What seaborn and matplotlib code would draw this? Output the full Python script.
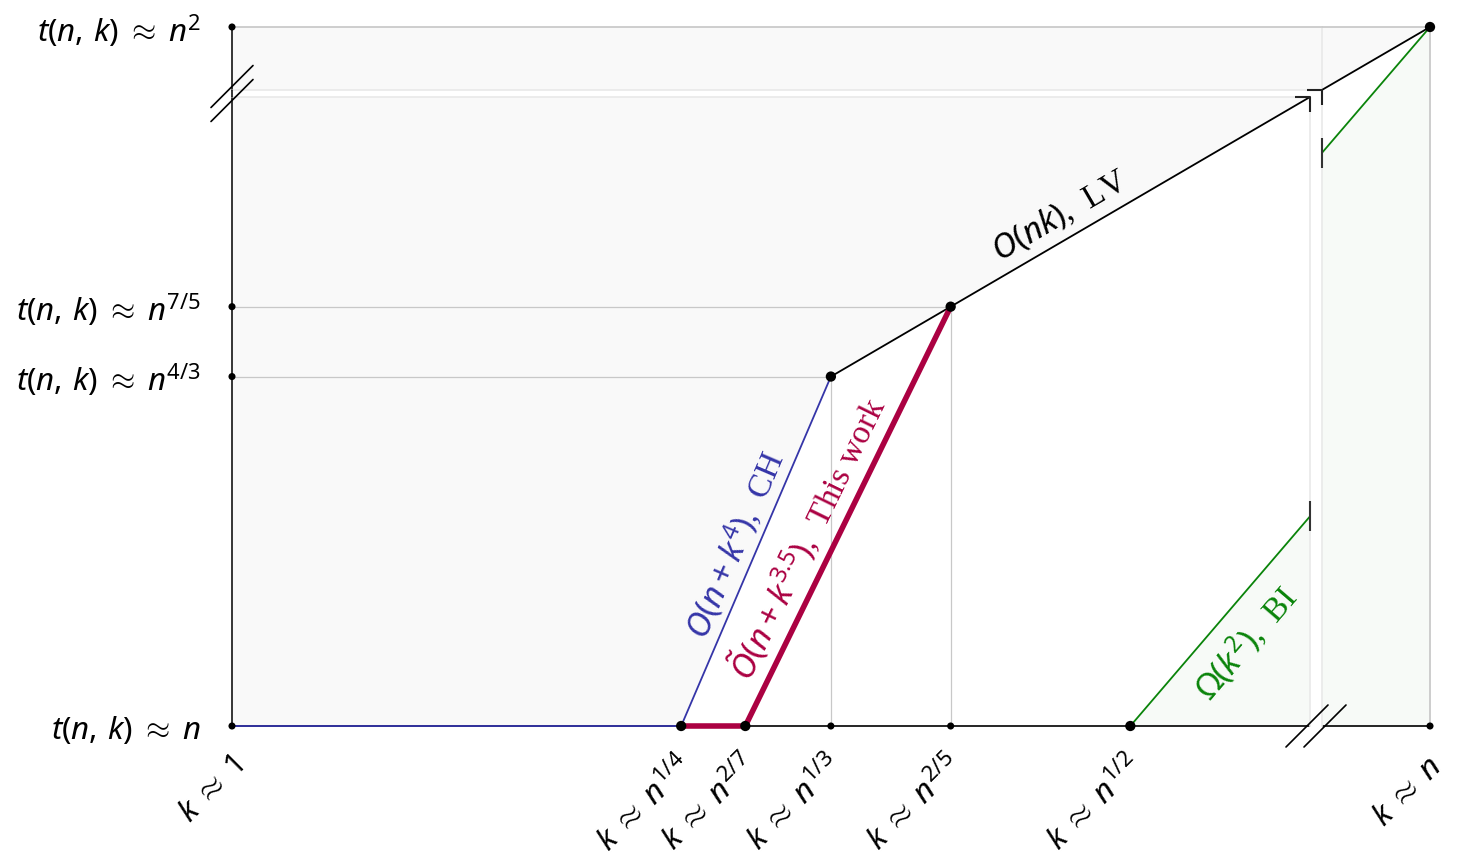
import numpy as np
import matplotlib
matplotlib.use("Agg")
import matplotlib.pyplot as plt
from matplotlib.lines import Line2D
from matplotlib.path import Path
from matplotlib.transforms import ScaledTranslation, Bbox, TransformedBbox
import seaborn as sns

# ---------------- data (exponents: k = n^x, t(n,k) = n^y) ----------------
x_ticks = [0, 1/4, 2/7, 1/3, 2/5, 1/2, 1]
x_labels = [r"$k\;\approx\;1$", r"$k\;\approx\;n^{1/4}$", r"$k\;\approx\;n^{2/7}$",
            r"$k\;\approx\;n^{1/3}$", r"$k\;\approx\;n^{2/5}$", r"$k\;\approx\;n^{1/2}$",
            r"$k\;\approx\;n$"]
y_ticks = [1, 4/3, 7/5, 2]
y_labels = [r"$t(n,\,k)\;\approx\;n$", r"$t(n,\,k)\;\approx\;n^{4/3}$",
            r"$t(n,\,k)\;\approx\;n^{7/5}$", r"$t(n,\,k)\;\approx\;n^{2}$"]

ch_x, ch_y = [0, 1/4, 1/3], [1, 1, 4/3]              # O(n + k^4), CH
lv_x, lv_y = [1/3, 2/5, 1], [4/3, 7/5, 2]            # O(nk), LV
this_x, this_y = [1/4, 2/7, 2/5], [1, 1, 7/5]        # O~(n + k^3.5), this work
bi_x, bi_y = [1/2, 1], [1, 2]                        # Omega(k^2), BI
upper_x, upper_y = [0, 1/4, 1/3, 1], [1, 1, 4/3, 2]  # best known upper bound

big_x = [1/4, 2/7, 1/3, 2/5, 1/2, 1]
big_y = [1, 1, 4/3, 7/5, 1, 2]
small_x = [0, 0, 0, 0, 1/3, 2/5, 1]
small_y = [1, 4/3, 7/5, 2, 1, 1, 1]

grid_x, grid_y = [1/3, 2/5], [4/3, 7/5]

# axis breaks
X_BREAK, Y_BREAK, X_RESUME = 0.6, 1.6, 0.91

# ---------------- style ----------------
BLUE = "#3535a8"
RED = "#ab0142"
GREEN = "#0a840a"
GRAYFILL = "#f9f9f9"
GREENFILL = "#f7faf7"
GRID = "#c8c8c8"
FAINT = "#eaeaea"

sns.set_theme(style="white")
plt.rcParams["font.family"] = ["Liberation Serif", "DejaVu Serif"]
plt.rcParams["mathtext.fontset"] = "custom"
plt.rcParams["mathtext.rm"] = "Noto Sans"
plt.rcParams["mathtext.it"] = "Noto Sans:italic"
plt.rcParams["mathtext.bf"] = "Noto Sans:bold"
FS_TICK = 22.5
FS_CURVE = 24

W, H = 1457, 857
fig = plt.figure(figsize=(W / 100, H / 100), dpi=100)
fig.patch.set_facecolor("white")


def frac(x0, y0, x1, y1):
    return [x0 / W, 1 - y1 / H, (x1 - x0) / W, (y1 - y0) / H]


# pixel layout
PX0, PXB, PXR, PX1 = 232, 1310, 1322, 1430
PY2, PYT, PYB, PY1 = 27, 90, 97, 726

ax = fig.add_axes(frac(PX0, PYB, PXB, PY1))
ax.set_xlim(0, X_BREAK)
ax.set_ylim(1, Y_BREAK)
sx = (PXB - PX0) / X_BREAK
ax_top = fig.add_axes(frac(PX0, PY2, PXR, PYT))
ax_top.set_xlim(0, (PXR - PX0) / sx)
ax_top.set_ylim(2 - (PYT - PY2) / ((PY1 - PYB) / (Y_BREAK - 1)), 2)
ax_r = fig.add_axes(frac(PXR, PY2, PX1, PY1))
ax_r.set_xlim(X_RESUME, 1)
ax_r.set_ylim(1, 2)

for a in (ax, ax_top, ax_r):
    a.set_facecolor("none")
    a.set_xticks([])
    a.set_yticks([])
    a.grid(False)
    for s in a.spines.values():
        s.set_visible(False)

# spines
ax.spines["left"].set_visible(True); ax.spines["left"].set_color("black"); ax.spines["left"].set_linewidth(1.1)
ax.spines["top"].set_visible(True); ax.spines["top"].set_color(FAINT)
ax.spines["right"].set_visible(True); ax.spines["right"].set_color(FAINT)
ax_top.spines["left"].set_visible(True); ax_top.spines["left"].set_color("black"); ax_top.spines["left"].set_linewidth(1.1)
ax_top.spines["top"].set_visible(True); ax_top.spines["top"].set_color(GRID)
ax_top.spines["bottom"].set_visible(True); ax_top.spines["bottom"].set_color(FAINT)
ax_r.spines["top"].set_visible(True); ax_r.spines["top"].set_color(GRID)
ax_r.spines["right"].set_visible(True); ax_r.spines["right"].set_color(GRID)
ax_r.spines["left"].set_visible(True); ax_r.spines["left"].set_color(FAINT)


def clip_lines(a, lines, x0, x1, y0, y1):
    box = TransformedBbox(Bbox([[x0, y0], [x1, y1]]), a.transData)
    for ln in lines:
        ln.set_clip_box(box)


# ---------------- fills ----------------
for a in (ax, ax_top, ax_r):
    a.fill_between(upper_x, upper_y, 2, color=GRAYFILL, lw=0, zorder=0)
    a.fill_between(bi_x, 1, bi_y, color=GREENFILL, lw=0, zorder=0)

# ---------------- grid lines ----------------
ax.vlines(grid_x, 1, grid_y, color=GRID, lw=0.9, zorder=1)
ax.hlines(grid_y, 0, grid_x, color=GRID, lw=0.9, zorder=1)

# ---------------- curves ----------------
def draw_curves(a, xlo, xhi, yhi):
    n0 = len(a.lines)
    a.axhline(1, color="black", lw=1.2, zorder=2)
    sns.lineplot(x=lv_x, y=lv_y, ax=a, color="black", lw=1.3, sort=False, estimator=None, zorder=3)
    sns.lineplot(x=bi_x, y=bi_y, ax=a, color=GREEN, lw=1.3, sort=False, estimator=None, zorder=3)
    sns.lineplot(x=ch_x, y=ch_y, ax=a, color=BLUE, lw=1.3, sort=False, estimator=None, zorder=3)
    sns.lineplot(x=this_x, y=this_y, ax=a, color=RED, lw=4.0, sort=False, estimator=None,
                 zorder=4, solid_capstyle="butt", solid_joinstyle="miter")
    clip_lines(a, a.lines[n0:], xlo, xhi, 0.97, yhi)


draw_curves(ax, -0.05, X_BREAK, Y_BREAK)
draw_curves(ax_r, X_RESUME, 1.05, 2.05)


# ---------------- points ----------------
def draw_points(a, xs, ys, s):
    x0, x1 = a.get_xlim(); y0, y1 = a.get_ylim()
    sel = [(x, y) for x, y in zip(xs, ys) if x0 - 1e-9 <= x <= x1 + 1e-9 and y0 - 1e-9 <= y <= y1 + 1e-9]
    if sel:
        px, py = zip(*sel)
        sns.scatterplot(x=list(px), y=list(py), ax=a, s=s, color="black",
                        edgecolor="none", clip_on=False, zorder=6)


for a in (ax, ax_top, ax_r):
    draw_points(a, small_x, small_y, 26)
    draw_points(a, big_x, big_y, 55)

# ---------------- break markers on the curves ----------------
corner = Path([(-1, 0), (0, 0), (0, -1)], [Path.MOVETO, Path.LINETO, Path.LINETO])
ms_px = 30 * 0.72
ax.plot([X_BREAK], [np.interp(X_BREAK, lv_x, lv_y)], marker=corner, ms=ms_px, mfc="none",
        mec="#222222", mew=1.5, clip_on=False, zorder=7)
ax_r.plot([X_RESUME], [np.interp(X_RESUME, lv_x, lv_y)], marker=corner, ms=ms_px, mfc="none",
          mec="#222222", mew=1.5, clip_on=False, zorder=7)
ax.plot([X_BREAK], [np.interp(X_BREAK, bi_x, bi_y)], marker="|", ms=ms_px, mec="#333333",
        mew=1.5, clip_on=False, zorder=7)
ax_r.plot([X_RESUME], [np.interp(X_RESUME, bi_x, bi_y)], marker="|", ms=ms_px, mec="#333333",
          mew=1.5, clip_on=False, zorder=7)

# ---------------- axis break decorations ----------------
def fline(xs, ys, **kw):
    fig.add_artist(Line2D([x / W for x in xs], [1 - y / H for y in ys],
                          transform=fig.transFigure, **kw))


fline([PX0, PX0], [PYT, PYB], color="black", lw=1.1)
ymid = (PYT + PYB) / 2
for dy in (-7, 7):
    fline([PX0 - 21, PX0 + 21], [ymid + dy + 21, ymid + dy - 21], color="black", lw=1.2)
xmid = (PXB + PXR) / 2
for dx in (-9, 9):
    fline([xmid + dx - 21, xmid + dx + 21], [PY1 + 21, PY1 - 21], color="black", lw=1.2)

# ---------------- tick labels ----------------
for xv, lab in zip(x_ticks, x_labels):
    a = ax_r if xv > X_BREAK else ax
    tr = a.get_xaxis_transform() + ScaledTranslation(13 / 100, -42 / 100, fig.dpi_scale_trans)
    a.text(xv, 0, lab, transform=tr, rotation=45, rotation_mode="anchor",
           ha="right", va="baseline", fontsize=FS_TICK, color="black")

for yv, lab in zip(y_ticks, y_labels):
    a = ax_top if yv > Y_BREAK else ax
    tr = a.get_yaxis_transform() + ScaledTranslation(-31 / 100, 0, fig.dpi_scale_trans)
    a.text(0, yv, lab, transform=tr, ha="right", va="center_baseline",
           fontsize=FS_TICK, color="black")

# ---------------- curve labels ----------------
def curve_label(a, text, color, xs, ys, xfoot, dist):
    yfoot = np.interp(xfoot, xs, ys)
    p = a.transData.transform([(xfoot, yfoot), (xfoot + 0.01, np.interp(xfoot + 0.01, xs, ys))])
    d = p[1] - p[0]
    ang = np.degrees(np.arctan2(d[1], d[0]))
    nx, ny = -np.sin(np.radians(ang)), np.cos(np.radians(ang))
    tr = a.transData + ScaledTranslation(nx * dist / 100, ny * dist / 100, fig.dpi_scale_trans)
    a.text(xfoot, yfoot, text, transform=tr, rotation=ang, rotation_mode="anchor",
           ha="center", va="center", fontsize=FS_CURVE, color=color, zorder=8)


curve_label(ax, r"$O(nk)$,  LV", "black", lv_x, lv_y, 0.4674, 23)
curve_label(ax, r"$O(n + k^{4})$,  CH", BLUE, [1/4, 1/3], [1, 4/3], 0.2912, 22)
curve_label(ax, r"$\tilde{O}(n + k^{3.5})$,  This work", RED, [2/7, 2/5], [1, 7/5], 0.3337, 27)
curve_label(ax, r"$\Omega(k^{2})$,  BI", GREEN, bi_x, bi_y, 0.55, -34)

fig.savefig("out.png", dpi=100, facecolor="white")
